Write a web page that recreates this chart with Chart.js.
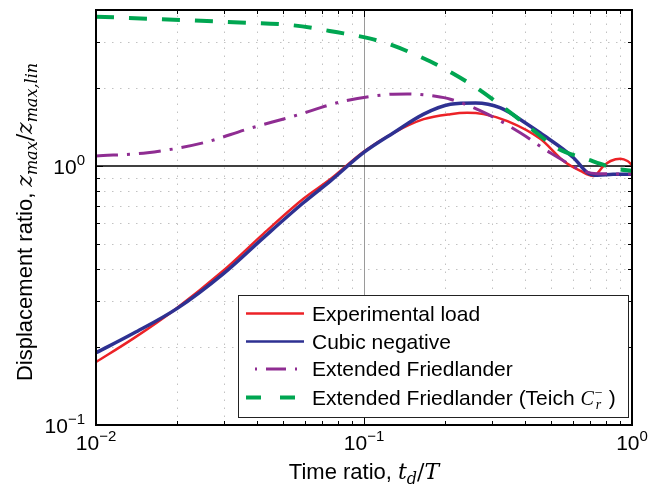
<!DOCTYPE html>
<html>
<head>
<meta charset="utf-8">
<script src="https://cdn.jsdelivr.net/npm/chart.js@4.4.0/dist/chart.umd.min.js"></script>
<style>
  html, body { margin: 0; padding: 0; background: #fff; }
  #wrap { width: 650px; height: 487px; }
</style>
</head>
<body>
<div id="wrap"><canvas id="chart" width="650" height="487"></canvas></div>
<script>
// axis ticks (log scales)
const xTickValues = [0.01, 0.1, 1];
const xTickExponents = ['\u22122', '\u22121', '0'];
const yTickValues = [0.1, 1];
const yTickExponents = ['\u22121', '0'];

// Experimental load
const expX = [0.01, 0.0138, 0.0195, 0.0299, 0.0422, 0.0594, 0.075, 0.0996, 0.129, 0.167, 0.21, 0.243, 0.279, 0.343, 0.456, 0.555, 0.642, 0.718, 0.783, 0.832, 0.906, 0.962, 1.0];
const expY = [0.175, 0.216, 0.277, 0.395, 0.548, 0.747, 0.89, 1.135, 1.343, 1.516, 1.585, 1.603, 1.585, 1.49, 1.27, 1.045, 0.957, 0.915, 1.0, 1.045, 1.067, 1.045, 1.009];

// Cubic negative
const cubicX = [0.01, 0.0138, 0.0201, 0.0299, 0.0422, 0.0594, 0.075, 0.0996, 0.129, 0.167, 0.21, 0.261, 0.323, 0.407, 0.455, 0.605, 0.682, 0.743, 0.85, 1.0];
const cubicY = [0.19, 0.226, 0.282, 0.384, 0.529, 0.721, 0.876, 1.125, 1.343, 1.585, 1.73, 1.75, 1.675, 1.45, 1.34, 1.076, 0.942, 0.921, 0.928, 0.929];

// Extended Friedlander
const friedX = [0.01, 0.01557, 0.0252, 0.0367, 0.0546, 0.0838, 0.1224, 0.145, 0.185, 0.21, 0.289, 0.384, 0.497, 0.659, 0.74, 0.906, 1.0];
const friedY = [1.093, 1.125, 1.229, 1.388, 1.557, 1.778, 1.887, 1.897, 1.858, 1.81, 1.585, 1.34, 1.122, 0.957, 0.934, 0.932, 0.932];

// Extended Friedlander (Teich C_r^-)
const teichX = [0.01, 0.0195, 0.0326, 0.0546, 0.0796, 0.1057, 0.1256, 0.177, 0.214, 0.267, 0.337, 0.422, 0.527, 0.682, 0.883, 1.0];
const teichY = [3.77, 3.67, 3.59, 3.49, 3.28, 3.10, 2.94, 2.53, 2.28, 1.98, 1.66, 1.39, 1.17, 1.06, 0.974, 0.957];

const RED = '#ec2227';
const BLUE = '#2e3192';
const PURPLE = '#8f2d92';
const GREEN = '#00a651';
const SANS = '"Liberation Sans", Arial, sans-serif';
const MATH = '"DejaVu Serif", "Liberation Serif", serif';
const SERIF = '"Liberation Serif", "Times New Roman", serif';

function toPoints(xs, ys) {
    return xs.map((x, i) => ({ x: x, y: ys[i] }));
}

function minorValues(lo, hi) {
    const out = [];
    for (let dec = lo; dec < hi; dec *= 10) {
        for (let k = 2; k <= 9; k++) {
            const v = k * dec;
            if (v < hi) out.push(v);
        }
    }
    return out;
}

// draw a sequence of [text, font, dy, extraGap] pieces
function drawRich(ctx, parts, x, y, align) {
    let total = 0;
    parts.forEach(p => { ctx.font = p[1]; total += ctx.measureText(p[0]).width + (p[3] || 0); });
    let cx = align === 'center' ? x - total / 2 : (align === 'right' ? x - total : x);
    parts.forEach(p => {
        ctx.font = p[1];
        ctx.fillText(p[0], cx, y + p[2]);
        cx += ctx.measureText(p[0]).width + (p[3] || 0);
    });
}

function powLabel(exp) {
    return [['10', '21px ' + SANS, 0], [exp, '15px ' + SANS, -9]];
}

const gridPlugin = {
    id: 'matGrid',
    beforeDatasetsDraw(chart) {
        const { ctx, chartArea: a, scales: { x, y } } = chart;
        ctx.save();
        ctx.beginPath();
        ctx.rect(a.left, a.top, a.right - a.left, a.bottom - a.top);
        ctx.clip();
        ctx.strokeStyle = '#c2c2c2';
        ctx.lineWidth = 1;
        ctx.setLineDash([1.5, 6.5]);
        minorValues(0.01, 1).forEach(v => {
            const px = Math.round(x.getPixelForValue(v)) + 0.5;
            ctx.beginPath(); ctx.moveTo(px, a.bottom); ctx.lineTo(px, a.top); ctx.stroke();
        });
        minorValues(0.1, 4).forEach(v => {
            const py = Math.round(y.getPixelForValue(v)) + 0.5;
            ctx.beginPath(); ctx.moveTo(a.left, py); ctx.lineTo(a.right, py); ctx.stroke();
        });
        ctx.setLineDash([]);
        // major lines
        const px = Math.round(x.getPixelForValue(0.1)) + 0.5;
        ctx.strokeStyle = '#9a9a9a';
        ctx.beginPath(); ctx.moveTo(px, a.bottom); ctx.lineTo(px, a.top); ctx.stroke();
        const py = Math.round(y.getPixelForValue(1));
        ctx.strokeStyle = '#000';
        ctx.lineWidth = 1.6;
        ctx.beginPath(); ctx.moveTo(a.left, py); ctx.lineTo(a.right, py); ctx.stroke();
        ctx.restore();
    },
    afterDraw(chart) {
        const { ctx, chartArea: a, scales: { x, y } } = chart;
        ctx.save();
        // inward ticks on all four sides
        ctx.strokeStyle = '#000';
        ctx.lineWidth = 1;
        const xt = minorValues(0.01, 1).map(v => [v, 4]).concat(xTickValues.map(v => [v, 7]));
        xt.forEach(([v, len]) => {
            const px = Math.round(x.getPixelForValue(v)) + 0.5;
            ctx.beginPath();
            ctx.moveTo(px, a.bottom); ctx.lineTo(px, a.bottom - len);
            ctx.moveTo(px, a.top); ctx.lineTo(px, a.top + len);
            ctx.stroke();
        });
        const yt = minorValues(0.1, 4).map(v => [v, 4]).concat(yTickValues.map(v => [v, 7]));
        yt.forEach(([v, len]) => {
            const py = Math.round(y.getPixelForValue(v)) + 0.5;
            ctx.beginPath();
            ctx.moveTo(a.left, py); ctx.lineTo(a.left + len, py);
            ctx.moveTo(a.right, py); ctx.lineTo(a.right - len, py);
            ctx.stroke();
        });
        // frame
        ctx.lineWidth = 2;
        ctx.strokeRect(a.left, a.top, a.right - a.left, a.bottom - a.top);

        // tick labels
        ctx.fillStyle = '#000';
        ctx.textBaseline = 'alphabetic';
        xTickValues.forEach((v, i) => {
            drawRich(ctx, powLabel(xTickExponents[i]), x.getPixelForValue(v), 450, 'center');
        });
        yTickValues.forEach((v, i) => {
            drawRich(ctx, powLabel(yTickExponents[i]), a.left - 11, y.getPixelForValue(v) + 8, 'right');
        });

        // x title
        drawRich(ctx, [
            ['Time ratio, ', '22px ' + SANS, 0],
            ['t', 'italic 22px ' + MATH, 0],
            ['d', 'italic 16px ' + MATH, 5],
            ['/', '22px ' + MATH, 0],
            ['T', 'italic 22px ' + MATH, 0]
        ], (a.left + a.right) / 2, 479, 'center');

        // y title (rotated)
        ctx.save();
        ctx.translate(32, 222);
        ctx.rotate(-Math.PI / 2);
        drawRich(ctx, [
            ['Displacement ratio, ', '22px ' + SANS, 0],
            ['z', 'italic 22px ' + MATH, 0],
            ['max', 'italic 16px ' + MATH, 5],
            ['/', '22px ' + MATH, 0],
            ['z', 'italic 22px ' + MATH, 0],
            ['max,lin', 'italic 16px ' + MATH, 5]
        ], 0, 0, 'center');
        ctx.restore();

        // legend
        const L = { left: 238, top: 295, right: 628, bottom: 417 };
        ctx.fillStyle = '#fff';
        ctx.fillRect(L.left, L.top, L.right - L.left, L.bottom - L.top);
        ctx.strokeStyle = '#222';
        ctx.lineWidth = 1;
        ctx.strokeRect(L.left + 0.5, L.top + 0.5, L.right - L.left, L.bottom - L.top);
        const rows = [313.5, 341.5, 369, 397.5];
        const samples = [
            { color: RED, width: 2.5, dash: [], off: 0 },
            { color: BLUE, width: 2.5, dash: [], off: 0 },
            { color: PURPLE, width: 3, dash: [20, 9, 2, 9], off: 20 },
            { color: GREEN, width: 4, dash: [15, 19], off: 0 }
        ];
        samples.forEach((s, i) => {
            ctx.strokeStyle = s.color;
            ctx.lineWidth = s.width;
            ctx.setLineDash(s.dash);
            ctx.lineDashOffset = s.off;
            ctx.beginPath(); ctx.moveTo(246, rows[i]); ctx.lineTo(304, rows[i]); ctx.stroke();
        });
        ctx.setLineDash([]);
        ctx.fillStyle = '#000';
        const tb = 7;
        const LF = '21px ' + SANS;
        drawRich(ctx, [['Experimental load', LF, 0]], 312, rows[0] + tb, 'left');
        drawRich(ctx, [['Cubic negative', LF, 0]], 312, rows[1] + tb, 'left');
        drawRich(ctx, [['Extended Friedlander', LF, 0]], 312, rows[2] + tb, 'left');
        // Teich label with stacked sub/superscript
        ctx.font = LF;
        const t1 = 'Extended Friedlander (Teich ';
        ctx.fillText(t1, 312, rows[3] + tb);
        let cx = 312 + ctx.measureText(t1).width;
        ctx.font = 'italic 20px ' + SERIF;
        ctx.fillText('C', cx, rows[3] + tb);
        cx += ctx.measureText('C').width + 1;
        ctx.font = '14px ' + SERIF;
        ctx.fillText('\u2212', cx, rows[3] + tb - 8);
        ctx.font = 'italic 14px ' + SERIF;
        ctx.fillText('r', cx + 1, rows[3] + tb + 4);
        cx += 14;
        ctx.font = LF;
        ctx.fillText(')', cx, rows[3] + tb);
        ctx.restore();
    }
};

const lineStyle = {
    pointRadius: 0,
    fill: false,
    cubicInterpolationMode: 'monotone'
};

new Chart(document.getElementById('chart'), {
    type: 'line',
    data: {
        datasets: [
            Object.assign({ label: 'Experimental load', data: toPoints(expX, expY), borderColor: RED, borderWidth: 2.5, order: 3 }, lineStyle),
            Object.assign({ label: 'Cubic negative', data: toPoints(cubicX, cubicY), borderColor: BLUE, borderWidth: 3.5, order: 2 }, lineStyle),
            Object.assign({ label: 'Extended Friedlander', data: toPoints(friedX, friedY), borderColor: PURPLE, borderWidth: 3, borderDash: [22, 9, 3, 9], order: 1 }, lineStyle),
            Object.assign({ label: 'Extended Friedlander (Teich C_r^-)', data: toPoints(teichX, teichY), borderColor: GREEN, borderWidth: 4, borderDash: [18, 15], order: 0 }, lineStyle)
        ]
    },
    options: {
        responsive: false,
        animation: false,
        layout: { padding: { left: 96, top: 10, right: 18, bottom: 62 } },
        scales: {
            x: { type: 'logarithmic', min: 0.01, max: 1, display: false },
            y: { type: 'logarithmic', min: 0.1, max: 4, display: false }
        },
        plugins: {
            legend: { display: false },
            tooltip: { enabled: false }
        }
    },
    plugins: [gridPlugin]
});
</script>
</body>
</html>
